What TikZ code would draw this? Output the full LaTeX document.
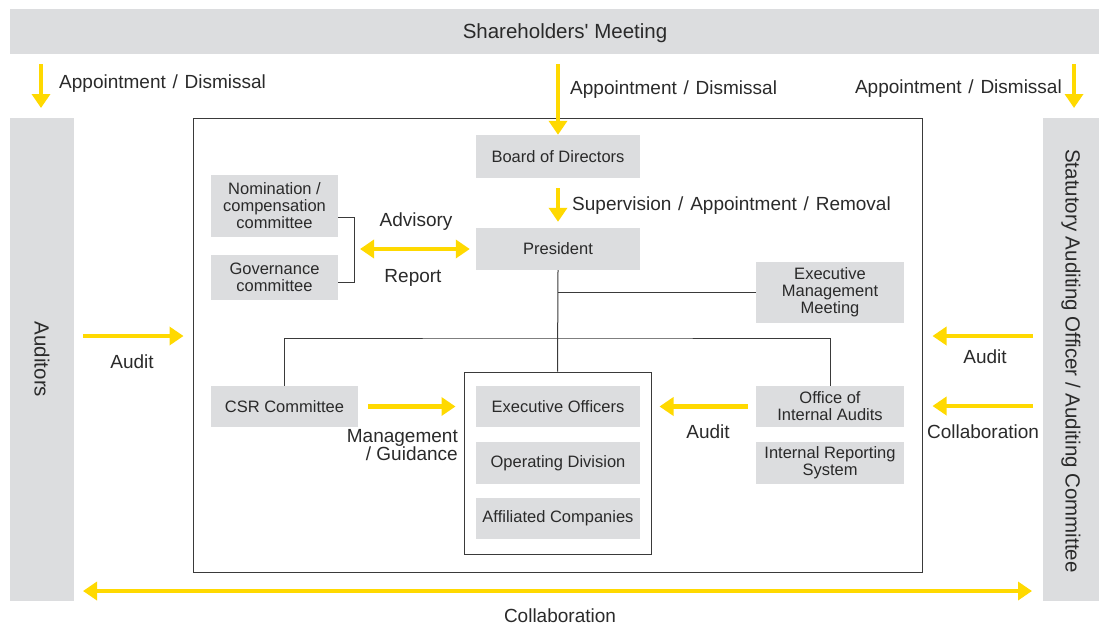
\documentclass[tikz,border=0pt]{standalone}
\usepackage{fontspec}
\setmainfont{Liberation Sans}
\usetikzlibrary{arrows.meta}
\definecolor{boxgray}{HTML}{DCDDDF}
\definecolor{ylw}{HTML}{FFD900}
\definecolor{txt}{HTML}{2A2A2A}
\definecolor{ln}{HTML}{3A3A3A}
\newcommand{\slsep}{\kern1.5pt/\kern1.5pt}
\tikzset{
  box/.style={fill=boxgray, draw=none, inner sep=0pt, align=center, text=txt,
    font=\fontsize{16.5}{17}\selectfont},
  bar/.style={fill=boxgray, draw=none, inner sep=0pt, text=txt, font=\fontsize{20.5}{22}\selectfont},
  vtext/.style={text=txt, rotate=-90, font=\fontsize{20.5}{22}\selectfont, inner sep=0pt},
  lbl/.style={text=txt, inner sep=0pt, font=\fontsize{19}{19}\selectfont},
  frame/.style={draw=ln, line width=1pt, fill=none, inner sep=0pt},
  conn/.style={draw=ln, line width=1pt},
  yarrow/.style={draw=ylw, line width=4.5pt, -{Triangle[length=14pt,width=18pt]}},
  ydarrow/.style={draw=ylw, line width=4.5pt, {Triangle[length=14pt,width=18pt]}-{Triangle[length=14pt,width=18pt]}},
}
\begin{document}
\begin{tikzpicture}[x=1pt,y=-1pt]
\useasboundingbox (0,0) rectangle (1099,626);
% bars
\node[bar, minimum width=1089, minimum height=45] (share) at (554.5,31.5) {};
\node[text=txt, inner sep=0pt, font=\fontsize{20.5}{22}\selectfont] (sharet) at (565,33) {Shareholders\textquotesingle\ Meeting};
\node[bar, minimum width=64, minimum height=483] (aud) at (42,359.5) {};
\node[vtext] (audt) at (aud.center) {Auditors};
\node[bar, minimum width=56, minimum height=483] (sao) at (1071,359.5) {};
\node[vtext] (saot) at (1071,361) {Statutory Auditing Officer / Auditing Committee};
% frames
\node[frame, minimum width=729, minimum height=454] (main) at (557.5,345) {};
\node[frame, minimum width=187, minimum height=182] (inner) at (557.5,463) {};
% boxes
\node[box, minimum width=164, minimum height=43] (bod) at (558,156.5) {Board of Directors};
\node[box, minimum width=164, minimum height=42] (pres) at (558,249) {President};
\node[box, minimum width=127, minimum height=62] (nom) at (274.5,206) {Nomination /\\compensation\\committee};
\node[box, minimum width=127, minimum height=45] (gov) at (274.5,277.5) {Governance\\committee};
\node[box, minimum width=148, minimum height=61] (emm) at (830,292.5) {Executive\\Management\\Meeting};
\node[box, minimum width=147, minimum height=41] (csr) at (284.5,406.5) {CSR Committee};
\node[box, minimum width=164, minimum height=41] (eo) at (558,406.5) {Executive Officers};
\node[box, minimum width=164, minimum height=42] (od) at (558,463) {Operating Division};
\node[box, minimum width=164, minimum height=41] (ac) at (558,518.5) {Affiliated Companies};
\node[box, minimum width=148, minimum height=41] (oia) at (830,406.5) {Office of\\Internal Audits};
\node[box, minimum width=148, minimum height=42] (irs) at (830,463) {Internal Reporting\\System};
% connector lines
\coordinate (brt) at (354,217);
\coordinate (brb) at (354,282);
\draw[conn] (nom.east |- brt) -- (brt) -- (brb) -- (gov.east |- brb);
\draw[conn] (pres.south) -- (inner.north);
\draw[conn] (emm.west) -- (emm.west -| pres.south);
\coordinate (hl) at (558,338);
\draw[conn] (csr.north) |- (hl) -| (oia.north);
% yellow arrows
\coordinate (a1s) at (41,64); \coordinate (a1e) at (41,108);
\draw[yarrow] (a1s) -- (a1e);
\node[lbl, anchor=west] (l1) at (59,84) {Appointment \slsep{} Dismissal};
\coordinate (a2s) at (558,64);
\draw[yarrow] (a2s) -- (bod.north);
\node[lbl, anchor=west] (l2) at (570,90) {Appointment \slsep{} Dismissal};
\coordinate (a3s) at (1074,64); \coordinate (a3e) at (1074,108);
\draw[yarrow] (a3s) -- (a3e);
\node[lbl, anchor=east] (l3) at (1062,89) {Appointment \slsep{} Dismissal};
\draw[yarrow, shorten <=10pt, shorten >=6pt] (bod.south) -- (pres.north);
\node[lbl, anchor=west] (l4) at (572,206) {Supervision \slsep{} Appointment \slsep{} Removal};
\coordinate (dl) at (360,249);
\draw[ydarrow, shorten >=6pt] (dl) -- (pres.west);
\node[lbl] (l5) at (416,222) {Advisory};
\node[lbl] (l6) at (413,278) {Report};
\coordinate (la) at (83,336);
\draw[yarrow, shorten >=9pt] (la) -- (la -| main.west);
\node[lbl] (l7) at (132,362) {Audit};
\coordinate (ra1) at (1033,336);
\draw[yarrow, shorten >=10pt] (ra1) -- (ra1 -| main.east);
\node[lbl] (l8) at (985,357) {Audit};
\coordinate (ra2) at (1033,406);
\draw[yarrow, shorten >=10pt] (ra2) -- (ra2 -| main.east);
\node[lbl] (l9) at (983,432) {Collaboration};
\draw[yarrow, shorten <=10pt, shorten >=8pt] (csr.east) -- (csr.east -| inner.west);
\node[lbl, align=right, anchor=north east, font=\fontsize{19}{17}\selectfont] (l10) at (458,429) {Management\\/ Guidance};
\draw[yarrow, shorten <=8pt, shorten >=8pt] (oia.west) -- (oia.west -| inner.east);
\node[lbl] (l11) at (708,432) {Audit};
\coordinate (cb1) at (83,591); \coordinate (cb2) at (1032,591);
\draw[ydarrow] (cb1) -- (cb2);
\node[lbl] (l12) at (560,616) {Collaboration};
\end{tikzpicture}
\end{document}
